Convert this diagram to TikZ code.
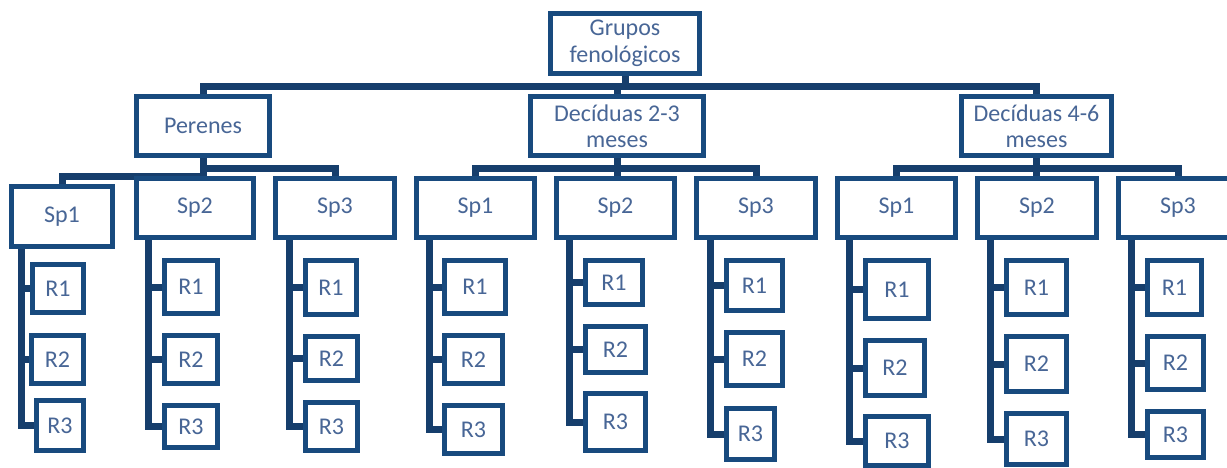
\documentclass[tikz,border=0pt]{standalone}
\usepackage{fontspec}
\setmainfont{Carlito}
\usetikzlibrary{backgrounds}
\definecolor{boxc}{RGB}{24,74,126}
\definecolor{linec}{RGB}{22,62,108}
\definecolor{txtc}{RGB}{72,102,150}
\tikzset{
  box/.style={draw=boxc, line width=5pt, fill=white, text=txtc, inner sep=0pt,
    align=center, font=\fontsize{24}{26.5}\selectfont},
  sz/.style 2 args={minimum width=#1pt, minimum height=#2pt},
  conn/.style={draw=linec, line width=7pt, line join=miter}
}
\begin{document}
\begin{tikzpicture}[x=1pt,y=-1pt]
\clip (0,0) rectangle (1227,467);
% top levels
\node[box, sz={149}{60}] (root) at (625,43.5) {Grupos\\fenológicos};
\node[box, sz={133}{59}] (per) at (203,126) {Perenes};
\node[box, sz={173}{59}] (d23) at (617,126) {Decíduas 2-3\\meses};
\node[box, sz={150}{59}] (d46) at (1036.5,126) {Decíduas 4-6\\meses};
% species
\node[box, sz={101}{60}] (pS1) at (62,216.5) {Sp1};
\node[box, sz={117}{59}] (pS2) at (195,208) {Sp2};
\node[box, sz={119}{59}] (pS3) at (335,208) {Sp3};
\node[box, sz={118}{59}] (dS1) at (475.5,208) {Sp1};
\node[box, sz={118}{59}] (dS2) at (615.5,208) {Sp2};
\node[box, sz={119}{59}] (dS3) at (756,208) {Sp3};
\node[box, sz={118}{59}] (eS1) at (896.5,208) {Sp1};
\node[box, sz={119}{59}] (eS2) at (1037,208) {Sp2};
\node[box, sz={119}{59}] (eS3) at (1178,208) {Sp3};
% replicates
\node[box, sz={51}{48}] (pS1r1) at (58,288.5) {R1};
\node[box, sz={52}{48}] (pS1r2) at (57.5,359.5) {R2};
\node[box, sz={47}{50}] (pS1r3) at (60,425.5) {R3};
\node[box, sz={53}{53}] (pS2r1) at (191,287) {R1};
\node[box, sz={53}{48}] (pS2r2) at (191,359.5) {R2};
\node[box, sz={53}{42}] (pS2r3) at (191,426.5) {R3};
\node[box, sz={51}{54}] (pS3r1) at (331,287.5) {R1};
\node[box, sz={52}{44}] (pS3r2) at (331.5,358.5) {R2};
\node[box, sz={52}{48}] (pS3r3) at (331.5,426.5) {R3};
\node[box, sz={61}{53}] (dS1r1) at (475,287) {R1};
\node[box, sz={58}{48}] (dS1r2) at (473.5,359.5) {R2};
\node[box, sz={58}{48}] (dS1r3) at (473.5,429.5) {R3};
\node[box, sz={57}{44}] (dS2r1) at (614,282.5) {R1};
\node[box, sz={60}{46}] (dS2r2) at (615.5,349.5) {R2};
\node[box, sz={60}{57}] (dS2r3) at (615.5,422) {R3};
\node[box, sz={56}{50}] (dS3r1) at (754.5,285.5) {R1};
\node[box, sz={56}{53}] (dS3r2) at (754.5,359) {R2};
\node[box, sz={48}{51}] (dS3r3) at (750.5,434) {R3};
\node[box, sz={63}{58}] (eS1r1) at (897,289.5) {R1};
\node[box, sz={59}{55}] (eS1r2) at (895,368) {R2};
\node[box, sz={63}{49}] (eS1r3) at (897,441) {R3};
\node[box, sz={60}{54}] (eS2r1) at (1036.5,287.5) {R1};
\node[box, sz={60}{55}] (eS2r2) at (1036.5,364) {R2};
\node[box, sz={60}{51}] (eS2r3) at (1036.5,439) {R3};
\node[box, sz={54}{54}] (eS3r1) at (1174.5,287.5) {R1};
\node[box, sz={56}{53}] (eS3r2) at (1175.5,363) {R2};
\node[box, sz={56}{46}] (eS3r3) at (1175.5,434.5) {R3};
% helper coordinates
\coordinate (bus) at (202,86);
\coordinate (pb) at (203,168);
\coordinate (pb1) at (200,176);
\coordinate (db) at (617,168);
\coordinate (eb) at (1037,168);
\coordinate (pS1t) at (21,246);
\coordinate (pS2t) at (148,238);
\coordinate (pS3t) at (289,238);
\coordinate (dS1t) at (429,238);
\coordinate (dS2t) at (569,238);
\coordinate (dS3t) at (710,238);
\coordinate (eS1t) at (849,238);
\coordinate (eS2t) at (990,238);
\coordinate (eS3t) at (1131,238);
\begin{scope}[on background layer]
  \draw[conn] (root.south) -- (root.south |- bus);
  \draw[conn] (per.north) -- (per.north |- bus) -- (d46.north |- bus) -- (d46.north);
  \draw[conn] (d23.north) -- (d23.north |- bus);
  % Perenes
  \draw[conn] (per.south) -- (pb) -| (pS3.north);
  \draw[conn] (per.south) -- (per.south |- pS2.north);
  \draw[conn] (pS1.north) |- (pb1);
  % Deciduas 2-3
  \draw[conn] (dS1.north) |- (db) -| (dS3.north);
  \draw[conn] (d23.south) -- (d23.south |- dS2.north);
  % Deciduas 4-6
  \draw[conn] (eS1.north) |- (eb) -| (eS3.north);
  \draw[conn] (d46.south) -- (d46.south |- eS2.north);
  % replicate trunks
  \foreach \s in {pS1,pS2,pS3,dS1,dS2,dS3,eS1,eS2,eS3}{
    \draw[conn] (\s t) |- (\s r3.west);
    \draw[conn] (\s t |- \s r1.west) -- (\s r1.west);
    \draw[conn] (\s t |- \s r2.west) -- (\s r2.west);
  }
\end{scope}
\end{tikzpicture}
\end{document}
